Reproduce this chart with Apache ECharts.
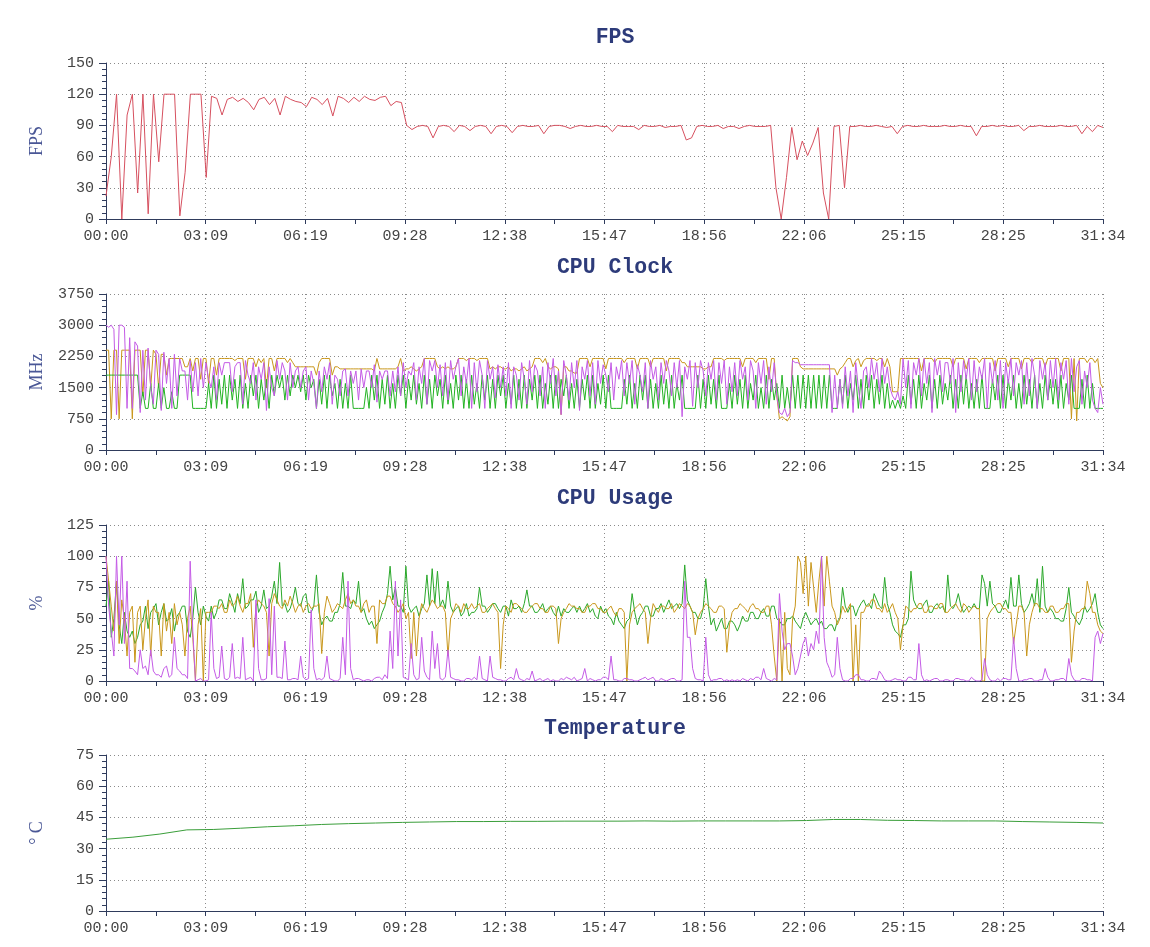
<!DOCTYPE html>
<html><head><meta charset="utf-8">
<script src="https://cdn.jsdelivr.net/npm/echarts@6/dist/echarts.min.js"></script>
<style>html,body{margin:0;padding:0;background:#fff}#c{width:1150px;height:947px}</style>
</head><body><div id="c"></div>
<script>
// time axis: 00:00 .. 31:34 (seconds)
const X_MAX = 1894;
const X_LABEL_STEP = 189.4;
const titles = ['FPS', 'CPU Clock', 'CPU Usage', 'Temperature'];
const yNames = ['FPS', 'MHz', '%', '° C'];

const fpsValues = [
22,60,120,0,100,120,25,120,5,120,
55,120,120,120,3,45,120,120,120,40,
118,116,100,115,117,113,116,112,105,115,
117,110,116,100,118,115,113,112,108,117,
115,110,116,99,118,116,112,117,113,118,
115,114,117,118,109,113,112,90,86,89,
90,89,78,89,90,89,84,90,89,85,
89,90,89,82,89,90,89,83,89,90,
89,89,90,82,89,90,90,89,87,89,
90,89,89,90,89,89,84,90,89,89,
89,86,90,89,89,90,88,89,89,90,
76,78,89,90,89,89,90,87,89,89,
87,89,90,89,89,89,90,30,0,40,
88,57,75,61,73,88,25,0,89,90,
30,89,89,90,89,89,90,89,88,89,
82,89,90,89,89,90,89,89,89,90,
89,89,90,89,89,80,89,89,90,89,
90,89,89,90,85,89,89,90,89,89,
89,90,89,89,90,82,89,84,90,88];

const clockGold = [
2400,2400,750,2400,2400,750,2400,2400,2400,2400,
750,2400,2400,2400,1300,2400,2400,1500,2400,2300,
1500,2300,2300,1800,2200,2200,2200,2200,2200,2200,
2000,2000,2200,1900,2200,2200,1700,2200,2200,1600,
2200,2200,1800,2200,2200,2200,2200,2200,2200,2150,
2200,2200,2200,1700,2200,2200,2200,2000,2200,2100,
2200,1500,2200,2200,1900,2200,2200,2200,2200,2100,
2200,2100,2000,2000,2000,2000,2000,2000,2000,2000,
1800,2100,2200,2200,2200,2200,1800,2000,2000,1950,
1950,1950,1950,1950,1950,1950,1950,1950,1950,1950,
1950,1950,1900,2200,1950,1950,1950,1950,1950,1950,
1950,2000,2200,1900,1950,1950,2000,1950,1900,1950,
2000,2200,2200,2200,2200,2200,2000,1950,2000,1950,
2000,1950,1950,2000,2200,2200,2200,2150,2200,2200,
2200,2150,2200,2200,2200,2200,1950,2000,1950,2000,
2000,1950,1950,2000,1900,1950,1950,1900,1950,2000,
1900,1950,2000,2200,2200,2200,2100,2200,2000,1950,
2000,2000,1950,850,2000,2000,1900,1900,1850,1850,
2200,2200,2200,2200,2000,2200,2200,2200,2200,2200,
1950,2200,2200,2200,2200,2200,2200,2100,2200,2200,
2200,2200,1950,2200,2200,2200,2200,2000,2200,2200,
2200,2200,2200,1900,2200,2200,2200,2200,2200,2100,
2100,2000,2000,2000,2000,2000,2000,1950,1950,2000,
2000,2200,2200,2200,2200,2150,2200,2200,2200,2200,
2200,2200,2000,2200,2200,2200,2200,2100,2200,2200,
2200,2200,1700,2200,2200,1300,750,800,750,700,
800,2200,2200,2200,2000,1950,1950,1950,1950,1950,
1950,1950,1950,1950,1950,1950,1950,1950,1800,1950,
2000,2100,2200,2200,2000,2150,2200,2000,2150,2200,
2200,2200,2200,2150,2200,2200,2000,2200,2000,1400,
1400,1400,2200,2200,2200,2200,2200,2200,2200,2200,
1900,2200,2200,2200,2200,2100,2200,2200,2200,2200,
2200,2200,2000,2200,2200,2200,2200,1950,2200,2200,
2200,2200,2100,2200,2200,2200,2200,2200,1900,2200,
2200,2200,2200,2000,2200,2200,2200,2200,1950,2200,
2200,2200,2100,2200,2200,2200,2200,2000,2200,2200,
2200,2200,2200,1900,2200,2200,2200,750,2200,700,
2200,2200,2200,2100,2200,2200,2100,2200,1600,1500];

const clockPurple = [
3000,2950,3000,2900,850,3000,3000,2950,1000,2700,
1000,2600,2500,900,2400,1200,2450,1500,1100,2400,
2300,950,2350,1600,2200,1000,2300,1300,2200,1900,
1900,1200,2150,1400,2100,1300,2200,1500,2100,1700,
1500,2000,1200,2100,1800,2100,2100,2100,1400,2000,
2100,2100,1100,2150,1800,1600,2100,1200,2000,1700,
2100,950,2000,1500,1300,2150,1700,2100,1900,1200,
2100,1500,1900,2000,1500,1900,2000,1200,1900,1600,
1000,1900,1400,2000,1700,2100,1100,1800,1700,1300,
1900,1950,1300,1900,1600,1900,1200,1950,1500,1900,
1900,1500,2050,1150,1900,1700,1900,1900,1300,1900,
1400,2000,1300,2100,1500,1900,1800,2100,1200,2000,
1600,2200,1100,2150,1900,2150,1500,2050,1300,2100,
1200,2150,1700,2000,2200,1300,2000,1600,2200,1000,
2100,1400,2150,1800,1000,2150,1700,2000,1250,2050,
1500,2000,1300,2100,1000,2000,1800,1200,2100,1700,
1100,2150,1400,2050,1900,1300,2000,1000,2100,1600,
2200,1300,1900,850,2150,1800,1200,2100,1500,2150,
950,2000,1700,2150,1300,2100,1100,2150,1600,2050,
1800,1400,2100,1200,2000,1700,2150,1300,2100,1600,
2150,1100,2050,1800,1400,2100,1000,2150,1700,2000,
1200,2100,1600,2150,1900,1300,2100,1500,2150,800,
2000,1700,2150,1050,2100,1500,2150,1900,1300,2100,
1700,2150,1200,2100,1600,2150,1100,2000,1400,2100,
1300,2150,1700,2000,1200,2150,1900,1000,2100,1600,
2150,1100,2000,1400,2100,1300,900,850,1000,800,
900,2150,2100,2100,2050,2050,2050,2050,2050,2050,
2050,2050,2050,2050,2050,2050,900,1800,1000,1700,
1000,2000,1300,1900,900,2100,1500,1000,1900,2000,
1500,2200,1700,2100,1400,2200,1600,2000,1500,1300,
1200,1400,1100,2200,1500,2150,1000,2100,1800,2200,
1300,2200,1600,2100,900,2200,1800,2150,1400,2100,
2100,1600,2200,900,2100,1400,2150,1700,2200,1200,
2150,1400,2000,1700,2200,1000,2100,1600,2150,1200,
2150,1000,2100,1600,2200,1300,2100,1800,2150,1100,
2100,1300,2200,1800,1000,2150,1700,2100,1200,2150,
1500,2200,1200,2100,1700,2150,1100,2200,1400,2000,
2150,1100,1900,1500,2100,1200,1000,900,1500,1100];

const clockGreen = [
1800,1800,1800,1800,1800,1800,1800,1800,1800,1800,
1800,1800,1800,1000,1400,1000,1000,1600,1000,1000,
1600,1000,1500,1000,1000,1400,1000,1000,1800,1800,
1800,1800,1800,1000,1000,1000,1000,1000,1000,1600,
1000,1800,1000,1700,1100,1800,1000,1800,1200,1700,
1000,1800,1000,1600,1000,1800,1300,1800,1000,1700,
1200,1700,1000,1800,1300,1800,1500,1800,1200,1800,
1300,1800,1500,1800,1400,1800,1200,1800,1500,1700,
1000,1700,1100,1800,1000,1800,1300,1600,1000,1700,
1000,1600,1000,1800,1000,1000,1000,1000,1000,1500,
1000,1800,1200,1800,1000,1700,1100,1800,1000,1600,
1000,1800,1300,1800,1000,1700,1200,1800,1100,1600,
1000,1800,1100,1700,1000,1800,1300,1700,1000,1800,
1100,1600,1000,1800,1200,1800,1000,1700,1000,1800,
1100,1600,1000,1800,1200,1800,1000,1700,1000,1800,
1300,1800,1000,1600,1100,1800,1000,1700,1000,1800,
1000,1700,1200,1800,1000,1800,1000,1600,1100,1800,
1000,1800,1000,1700,1300,1800,1000,1600,1000,1700,
1000,1700,1200,1800,1000,1800,1000,1600,1100,1800,
1000,1800,1000,1000,1000,1000,1000,1700,1100,1800,
1000,1600,1000,1800,1200,1800,1000,1700,1000,1600,
1000,1800,1100,1700,1000,1800,1000,1600,1200,1800,
1000,1000,1000,1000,1000,1800,1000,1700,1000,1800,
1100,1700,1000,1800,1000,1000,1000,1600,1000,1800,
1100,1700,1000,1800,1000,1600,1200,1800,1000,1500,
1000,1800,1000,1700,1200,1600,1000,1800,1000,1500,
1000,1800,1000,1800,1000,1800,1000,1800,1000,1800,
1000,1800,1000,1800,1000,1800,1000,1000,1000,1700,
1100,1800,1000,1600,1200,1800,1000,1700,1000,1800,
1200,1800,1000,1700,1100,1800,1000,1600,1000,1200,
1000,1200,1000,1300,1000,1800,1100,1700,1000,1800,
1000,1600,1200,1800,1000,1700,1000,1800,1100,1600,
1200,1800,1000,1700,1000,1800,1100,1800,1000,1600,
1000,1700,1000,1800,1000,1000,1000,1700,1200,1800,
1000,1800,1000,1700,1200,1800,1000,1600,1000,1800,
1100,1700,1000,1800,1000,1600,1000,1800,1200,1700,
1100,1700,1000,1800,1000,1600,1200,1800,1000,1000,
1000,1700,1000,1800,1000,1600,1000,1000,1000,1000];

const usageGreen = [
60,80,35,50,80,45,30,55,40,35,
40,30,35,45,48,60,42,55,58,62,
45,55,62,48,50,58,40,52,55,60,
60,40,35,50,75,55,45,60,52,48,
60,50,55,65,65,58,58,70,63,55,
70,62,82,58,60,65,65,72,55,60,
73,58,60,68,80,62,95,60,62,55,
58,65,75,62,60,68,70,55,55,60,
85,55,45,50,52,48,48,55,55,62,
87,60,60,58,65,62,80,55,58,50,
45,48,42,45,48,55,60,70,92,65,
75,60,60,55,92,60,55,58,60,52,
58,62,85,60,90,62,88,60,65,58,
80,60,55,58,60,52,55,62,52,55,
55,58,75,60,60,55,58,62,62,58,
55,60,60,52,65,58,58,60,55,62,
73,60,60,55,55,58,62,55,58,60,
55,52,60,52,58,55,55,58,60,55,
60,55,58,62,55,58,52,50,60,55,
58,52,50,45,55,48,45,42,48,50,
70,55,45,52,55,60,60,52,52,58,
58,62,55,60,65,58,60,62,58,62,
93,65,60,55,55,50,50,58,82,60,
45,50,40,45,50,42,42,48,48,45,
40,45,52,48,48,55,55,50,50,55,
58,52,52,60,60,50,48,45,45,50,
50,52,48,45,42,50,55,50,45,48,
50,45,48,42,42,45,45,40,48,50,
75,60,55,60,60,52,58,62,65,60,
62,58,70,65,60,58,83,62,55,45,
40,38,35,45,45,50,88,65,60,58,
58,62,65,55,55,60,62,58,60,55,
85,60,58,62,70,60,55,58,60,58,
62,58,58,85,78,60,80,62,60,55,
55,60,65,58,83,60,60,85,62,55,
58,62,70,60,82,55,92,60,55,58,
55,50,50,48,48,58,75,55,52,48,
45,50,60,55,58,62,70,55,45,42];

const usageGold = [
100,80,60,40,80,30,65,50,20,55,
60,15,55,60,25,50,65,20,60,55,
55,20,62,40,55,30,62,45,55,45,
20,50,60,35,0,45,58,0,55,55,
55,60,60,58,62,55,55,65,60,62,
68,60,55,62,62,70,27,60,65,62,
60,55,20,62,70,65,60,58,65,60,
68,62,55,60,62,55,60,62,58,60,
60,62,22,55,68,62,55,58,62,60,
58,65,70,62,65,60,60,55,62,65,
55,60,60,30,65,62,62,68,68,62,
60,55,58,62,50,55,18,55,20,50,
62,58,55,60,65,62,58,60,60,55,
20,50,55,62,60,55,62,58,58,62,
58,60,62,55,55,58,60,62,58,55,
10,45,60,58,55,62,62,60,58,55,
55,58,60,62,62,58,58,55,55,60,
60,58,30,50,55,58,62,60,60,58,
58,55,55,60,60,62,62,58,58,55,
55,58,60,55,52,58,58,55,0,45,
55,58,60,62,58,55,30,50,62,58,
55,60,60,58,58,62,55,58,62,60,
58,62,60,55,37,50,55,58,62,60,
58,55,55,60,60,58,23,45,55,58,
58,62,60,58,55,60,62,58,58,55,
55,60,60,45,20,0,50,0,55,10,
5,50,60,100,95,70,100,60,95,75,
55,80,100,60,100,80,60,55,45,50,
60,55,58,62,0,45,0,55,55,60,
60,65,65,58,58,55,62,55,58,62,
55,50,25,45,60,58,55,58,58,62,
62,55,55,60,60,58,58,62,62,55,
55,58,60,62,58,55,62,60,55,58,
60,58,58,0,0,50,55,58,60,62,
62,58,58,55,55,30,45,60,60,55,
20,45,55,62,62,58,58,55,55,60,
60,55,55,58,58,62,62,15,40,55,
55,58,58,80,70,55,55,45,40,38];

const usagePurple = [
100,60,40,20,100,45,100,30,80,10,
10,8,5,25,10,12,5,25,8,5,
5,3,10,12,3,5,35,10,8,5,
5,2,96,40,0,1,2,0,0,1,
55,10,2,3,28,2,1,3,30,2,
3,2,35,1,2,3,0,65,10,1,
1,2,66,5,60,3,3,2,32,1,
1,2,2,1,20,3,1,2,57,10,
1,2,1,3,20,2,1,0,0,2,
35,5,80,10,1,2,2,1,0,1,
1,0,2,3,3,1,5,2,40,10,
80,20,65,3,2,1,30,5,1,2,
35,8,3,1,40,10,30,2,1,3,
25,3,2,1,1,0,0,2,2,1,
3,1,20,2,1,0,20,3,2,1,
1,0,0,2,3,1,10,2,1,0,
2,1,8,0,1,2,0,1,2,0,
1,0,0,2,1,3,2,1,3,0,
1,2,10,0,2,1,0,1,1,3,
3,1,20,1,1,0,0,2,2,1,
1,0,0,1,2,3,1,2,3,0,
0,2,1,0,1,2,2,0,0,1,
80,35,35,10,2,1,1,0,35,5,
0,1,1,2,2,0,1,0,1,0,
1,0,2,1,0,2,1,3,3,1,
10,2,1,0,2,1,70,40,25,30,
30,20,5,10,20,30,35,20,30,25,
40,30,100,35,15,10,3,5,35,10,
1,0,0,2,2,5,5,1,1,0,
0,2,2,1,8,5,1,0,0,1,
2,1,1,0,0,3,3,1,1,30,
5,0,1,0,1,2,2,0,0,1,
1,0,0,2,2,1,1,0,0,3,
1,0,0,1,18,5,1,0,0,2,
0,2,2,1,1,35,10,0,0,1,
1,2,2,0,0,1,1,10,3,0,
0,1,1,2,2,0,18,5,1,0,
0,2,2,1,1,0,35,40,30,38];

const tempValues = [
34.5,35.5,37,39,39.2,39.8,40.5,41,41.6,42,
42.3,42.6,42.8,43,43,43.1,43.1,43.2,43.2,43.2,
43.3,43.2,43.3,43.3,43.3,43.3,43.5,44,44,43.6,
43.5,43.3,43.3,43.3,43,42.8,42.6,42.3];

const yRanges = [[0,150,30],[0,3750,750],[0,125,25],[0,75,15]];

function spread(values){
  const n = values.length;
  return values.map((v,i)=>[i*X_MAX/(n-1), v]);
}
function mmss(v){
  const s = Math.round(v);
  const m = Math.floor(s/60), r = s%60;
  return String(m).padStart(2,'0')+':'+String(r).padStart(2,'0');
}

const AXIS_COLOR = '#2f3b5c';
const GRID_TOPS = [63, 294, 525, 755];
const LABEL_FONT = 'Liberation Mono';

const grids = GRID_TOPS.map(t=>({left:106, right:47, top:t, height:156, containLabel:false}));
const titleTops = [27, 257, 488, 718];
const titleOpts = titles.map((t,i)=>({
  text:t, left:615, top:titleTops[i], textAlign:'center', padding:0,
  textStyle:{fontFamily:LABEL_FONT, fontSize:21.5, fontWeight:'bold', color:'#2d3b7a'}
}));

const xAxes = GRID_TOPS.map((_,i)=>({
  type:'value', gridIndex:i, min:0, max:X_MAX, interval:X_LABEL_STEP,
  axisLine:{show:true, onZero:false, lineStyle:{color:AXIS_COLOR, width:1}},
  axisTick:{show:true, length:5, lineStyle:{color:AXIS_COLOR}},
  minorTick:{show:true, splitNumber:2, length:5, lineStyle:{color:AXIS_COLOR}},
  splitLine:{show:true, lineStyle:{type:[1,3], color:'#8a8a8a', width:1}},
  axisLabel:{formatter:mmss, margin:10, fontFamily:LABEL_FONT, fontSize:15, color:'#444', showMinLabel:true, showMaxLabel:true}
}));

const yAxes = yRanges.map((r,i)=>({
  type:'value', gridIndex:i, min:r[0], max:r[1], interval:r[2],
  name:yNames[i], nameLocation:'middle', nameGap:60,
  nameTextStyle:{fontFamily:'Liberation Serif', fontSize:18, color:'#4a5796'},
  axisLine:{show:true, lineStyle:{color:AXIS_COLOR, width:1}},
  axisTick:{show:true, length:7, lineStyle:{color:AXIS_COLOR}},
  minorTick:{show:true, splitNumber:5, length:4, lineStyle:{color:AXIS_COLOR}},
  splitLine:{show:true, lineStyle:{type:[1,3], color:'#8a8a8a', width:1}},
  axisLabel:{margin:12, fontFamily:LABEL_FONT, fontSize:15, color:'#444', formatter:v=>String(v)}
}));

function line(data, color, gi){
  return {type:'line', xAxisIndex:gi, yAxisIndex:gi, data:spread(data), showSymbol:false,
    symbol:'none', lineStyle:{color, width:1}, itemStyle:{color}, animation:false, silent:true};
}

const series = [
  line(fpsValues, '#d6505f', 0),
  line(clockGold, '#c9971c', 1),
  line(clockGreen, '#22b322', 1),
  line(clockPurple, '#c45be6', 1),
  line(usageGreen, '#2aa82a', 2),
  line(usageGold, '#c9971c', 2),
  line(usagePurple, '#c45be6', 2),
  line(tempValues, '#3a9e3a', 3)
];

const chart = echarts.init(document.getElementById('c'), null, {renderer:'canvas'});
chart.setOption({
  animation:false, backgroundColor:'#fff',
  title:titleOpts, grid:grids, xAxis:xAxes, yAxis:yAxes, series
});
</script>
</body></html>
